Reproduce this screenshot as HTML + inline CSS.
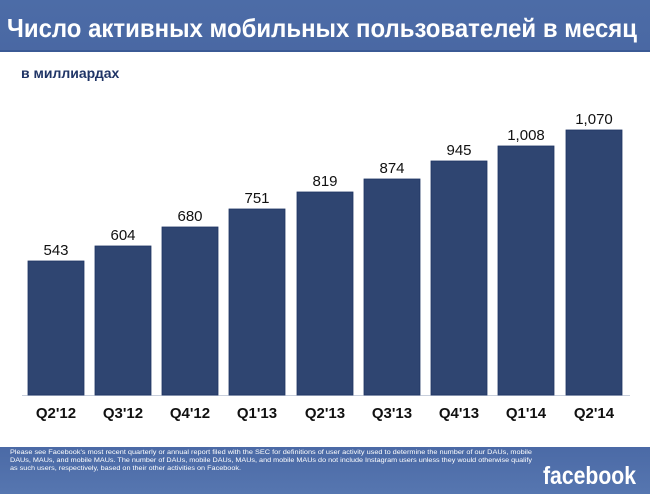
<!DOCTYPE html>
<html><head><meta charset="utf-8"><style>
body{margin:0;width:650px;height:494px;overflow:hidden;background:#fff;font-family:"Liberation Sans","DejaVu Sans",sans-serif}
</style></head><body>
<svg width="650" height="494" xmlns="http://www.w3.org/2000/svg">
<defs>
<linearGradient id="hd" x1="0" y1="0" x2="0" y2="1"><stop offset="0" stop-color="#4c6ca7"/><stop offset="1" stop-color="#4a68a3"/></linearGradient>
<linearGradient id="ft" x1="0" y1="0" x2="0" y2="1"><stop offset="0" stop-color="#4b6aa6"/><stop offset="1" stop-color="#5676b0"/></linearGradient>
</defs>
<rect x="0" y="0" width="650" height="51" fill="url(#hd)"/>
<rect x="0" y="50" width="650" height="2" fill="#3b5a95"/>
<text x="7" y="37" font-size="26" font-weight="bold" fill="#fff" textLength="630" lengthAdjust="spacingAndGlyphs">Число активных мобильных пользователей в месяц</text>
<text x="21" y="78" font-size="14" font-weight="bold" fill="#1f3466">в миллиардах</text>
<line x1="22" y1="395.5" x2="630" y2="395.5" stroke="#c8cfdc" stroke-width="1"/>
<g fill="#2f4571" stroke="#1f3463" stroke-width="0.8">
<rect x="28" y="261" width="56" height="134"/>
<rect x="95" y="246" width="56" height="149"/>
<rect x="162" y="227" width="56" height="168"/>
<rect x="229" y="209" width="56" height="186"/>
<rect x="297" y="192" width="56" height="203"/>
<rect x="364" y="179" width="56" height="216"/>
<rect x="431" y="161" width="56" height="234"/>
<rect x="498" y="146" width="56" height="249"/>
<rect x="566" y="130" width="56" height="265"/>
</g>
<g font-size="15" fill="#111" text-anchor="middle">
<text x="56" y="255">543</text>
<text x="123" y="240">604</text>
<text x="190" y="221">680</text>
<text x="257" y="203">751</text>
<text x="325" y="186">819</text>
<text x="392" y="173">874</text>
<text x="459" y="155">945</text>
<text x="526" y="140">1,008</text>
<text x="594" y="124">1,070</text>
</g>
<g font-size="15" font-weight="bold" fill="#111" text-anchor="middle">
<text x="56" y="418">Q2'12</text>
<text x="123" y="418">Q3'12</text>
<text x="190" y="418">Q4'12</text>
<text x="257" y="418">Q1'13</text>
<text x="325" y="418">Q2'13</text>
<text x="392" y="418">Q3'13</text>
<text x="459" y="418">Q4'13</text>
<text x="526" y="418">Q1'14</text>
<text x="594" y="418">Q2'14</text>
</g>
<rect x="0" y="447" width="650" height="47" fill="url(#ft)"/>
<g font-size="6.3" fill="#fff">
<text x="10" y="454" textLength="522" lengthAdjust="spacingAndGlyphs">Please see Facebook's most recent quarterly or annual report filed with the SEC for definitions of user activity used to determine the number of our DAUs, mobile</text>
<text x="10" y="462" textLength="522" lengthAdjust="spacingAndGlyphs">DAUs, MAUs, and mobile MAUs. The number of DAUs, mobile DAUs, MAUs, and mobile MAUs do not include Instagram users unless they would otherwise qualify</text>
<text x="10" y="470" textLength="231" lengthAdjust="spacingAndGlyphs">as such users, respectively, based on their other activities on Facebook.</text>
</g>
<text x="543" y="484" font-size="25" font-weight="bold" fill="#fff" textLength="93" lengthAdjust="spacingAndGlyphs">facebook</text>
</svg>
</body></html>
